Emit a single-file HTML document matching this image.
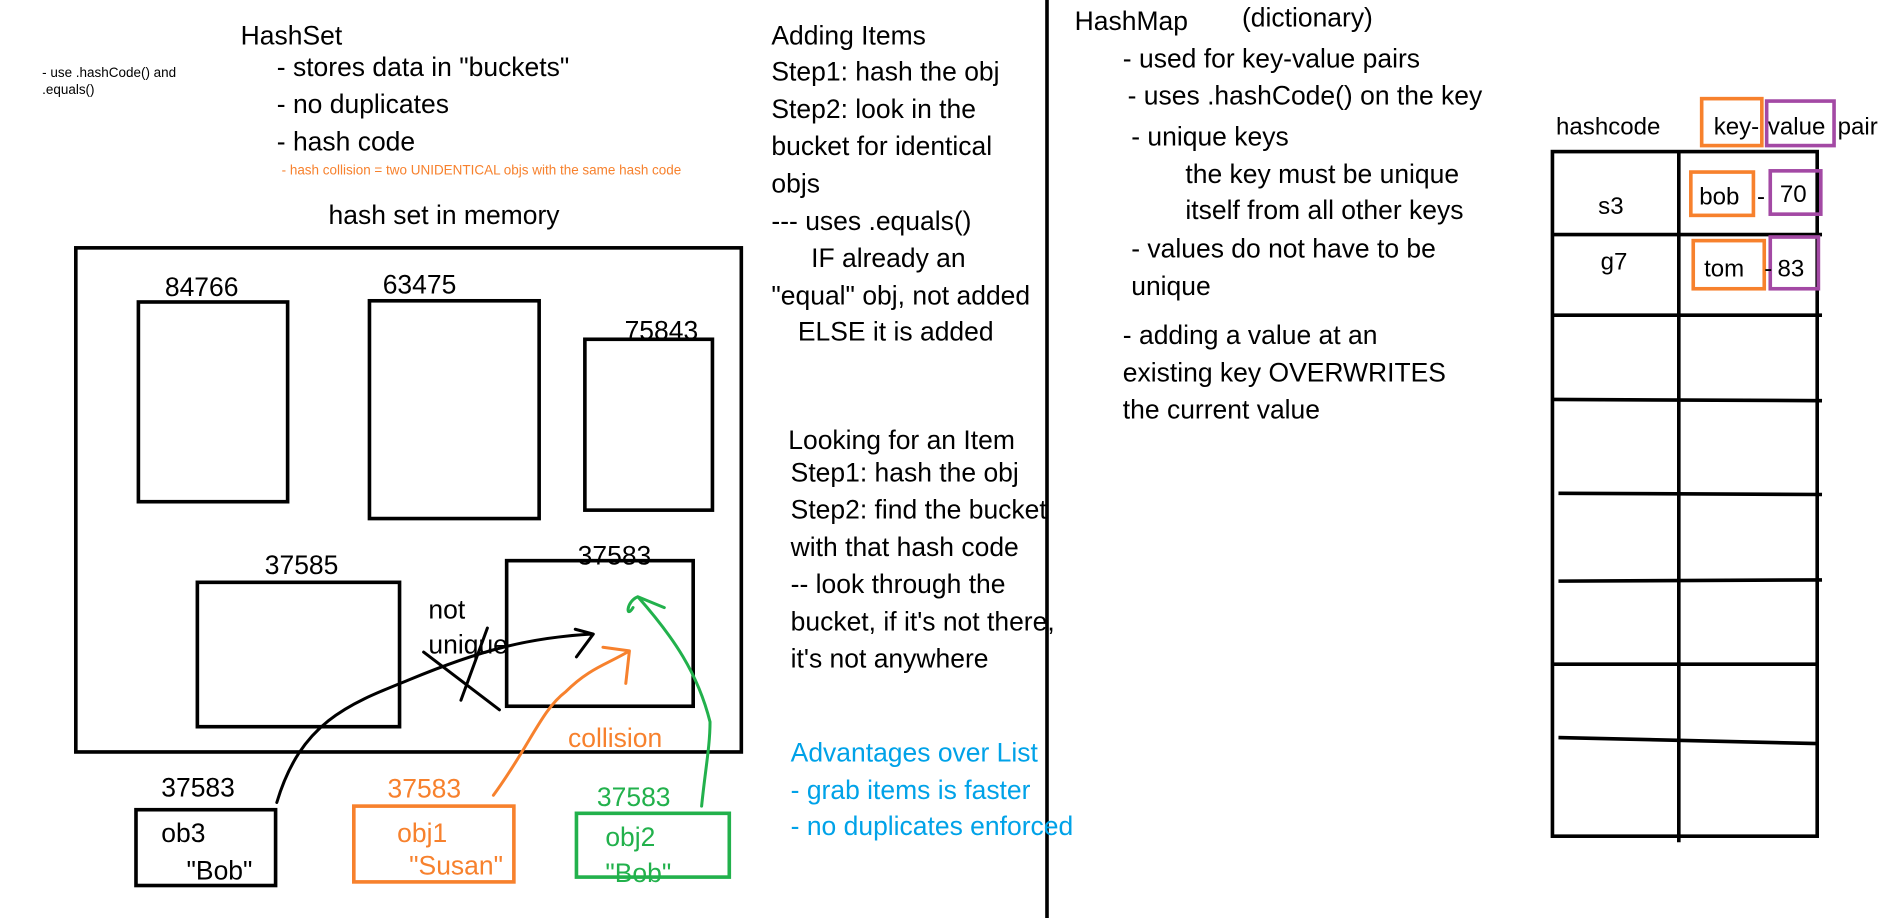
<!DOCTYPE html>
<html><head><meta charset="utf-8"><style>
html,body{margin:0;padding:0;background:#fff;width:1887px;height:918px;overflow:hidden}
svg{display:block}
text{font-family:"Liberation Sans",sans-serif;font-size:22px;fill:#000}
.o{fill:#f7812d}.g{fill:#22b14c}.b{fill:#00a2e8}
.t{font-size:20px}
</style></head><body>
<svg width="1887" height="918" viewBox="0 0 1568 763" preserveAspectRatio="none">
<g fill="none" stroke="#000" stroke-width="3">
<rect x="63" y="206" width="553" height="419"/>
<rect x="115" y="251" width="124" height="166"/>
<rect x="307" y="250" width="141" height="181"/>
<rect x="486" y="282" width="106" height="142"/>
<rect x="164" y="484" width="168" height="120"/>
<rect x="421" y="466" width="155" height="121"/>
<rect x="113" y="673" width="116" height="63"/>
<line x1="870" y1="0" x2="870" y2="763"/>
<rect x="1290" y="126" width="220" height="569"/>
<line x1="1395" y1="126" x2="1395" y2="700"/>
<line x1="1290" y1="195" x2="1514" y2="195"/>
<line x1="1290" y1="262" x2="1514" y2="262"/>
<line x1="1290" y1="332" x2="1514" y2="333"/>
<line x1="1295" y1="410" x2="1514" y2="411"/>
<line x1="1295" y1="483" x2="1514" y2="482"/>
<line x1="1290" y1="552" x2="1510" y2="552"/>
<line x1="1295" y1="613" x2="1510" y2="618"/>
</g>
<g fill="none" stroke-width="2.5" stroke-linecap="round" stroke-linejoin="round">
<path d="M352,542 L415,590 M405,522 L383,582" stroke="#000"/>
<path d="M230,667 C250,600 290,585 340,565 C400,540 440,530 492,527 M478,523 L493,527 L479,546" stroke="#000"/>
<path d="M410,661 C440,620 450,590 470,575 C490,555 505,552 523,541 M501,538 L523,541 L520,568" stroke="#f7812d"/>
<path d="M583,670 C586,640 590,620 590,600 C580,560 560,530 530,496 L552,505 M530,496 C520,500 520,515 526,505" stroke="#22b14c"/>
</g>
<rect x="294" y="670" width="133" height="63" fill="none" stroke="#f7812d" stroke-width="3"/>
<rect x="479" y="676" width="127" height="53" fill="none" stroke="#22b14c" stroke-width="3"/>
<g fill="none" stroke-width="3">
<rect x="1414" y="82" width="50" height="39" stroke="#f7812d"/>
<rect x="1468" y="84" width="56" height="37" stroke="#a349a4"/>
<rect x="1405" y="143" width="52" height="36" stroke="#f7812d"/>
<rect x="1471" y="142" width="42" height="36" stroke="#a349a4"/>
<rect x="1407" y="200" width="59" height="40" stroke="#f7812d"/>
<rect x="1471" y="197" width="40" height="43" stroke="#a349a4"/>
</g>
<text x="35" y="64" style="font-size:11.2px">- use .hashCode() and</text>
<text x="35" y="78" style="font-size:11.2px">.equals()</text>
<text x="200" y="37">HashSet</text>
<text x="230" y="63">- stores data in "buckets"</text>
<text x="230" y="94">- no duplicates</text>
<text x="230" y="125">- hash code</text>
<text x="234" y="145" class="o" style="font-size:11.2px">- hash collision = two UNIDENTICAL objs with the same hash code</text>
<text x="273" y="186">hash set in memory</text>
<text x="137" y="246">84766</text>
<text x="318" y="244">63475</text>
<text x="519" y="282">75843</text>
<text x="220" y="477">37585</text>
<text x="480" y="469">37583</text>
<text x="356" y="514">not</text>
<text x="356" y="543">unique</text>
<text x="472" y="621" class="o">collision</text>
<text x="134" y="662">37583</text>
<text x="134" y="700">ob3</text>
<text x="155" y="731">"Bob"</text>
<text x="322" y="663" class="o">37583</text>
<text x="330" y="700" class="o">obj1</text>
<text x="340" y="727" class="o">"Susan"</text>
<text x="496" y="670" class="g">37583</text>
<text x="503" y="703" class="g">obj2</text>
<text x="503" y="733" class="g">"Bob"</text>
<text x="641" y="37">Adding Items</text>
<text x="641" y="67">Step1: hash the obj</text>
<text x="641" y="98">Step2: look in the</text>
<text x="641" y="129">bucket for identical</text>
<text x="641" y="160">objs</text>
<text x="641" y="191">--- uses .equals()</text>
<text x="674" y="222">IF already an</text>
<text x="641" y="253">"equal" obj, not added</text>
<text x="663" y="283">ELSE it is added</text>
<text x="655" y="373">Looking for an Item</text>
<text x="657" y="400">Step1: hash the obj</text>
<text x="657" y="431">Step2: find the bucket</text>
<text x="657" y="462">with that hash code</text>
<text x="657" y="493">-- look through the</text>
<text x="657" y="524">bucket, if it's not there,</text>
<text x="657" y="555">it's not anywhere</text>
<text x="657" y="633" class="b">Advantages over List</text>
<text x="657" y="664" class="b">- grab items is faster</text>
<text x="657" y="694" class="b">- no duplicates enforced</text>
<text x="893" y="25">HashMap</text>
<text x="1032" y="22">(dictionary)</text>
<text x="933" y="56">- used for key-value pairs</text>
<text x="937" y="87">- uses .hashCode() on the key</text>
<text x="940" y="121">- unique keys</text>
<text x="985" y="152">the key must be unique</text>
<text x="985" y="182">itself from all other keys</text>
<text x="940" y="214">- values do not have to be</text>
<text x="940" y="245">unique</text>
<text x="933" y="286">- adding a value at an</text>
<text x="933" y="317">existing key OVERWRITES</text>
<text x="933" y="348">the current value</text>
<text x="1293" y="112" class="t">hashcode</text>
<text x="1424" y="112" class="t">key-</text>
<text x="1469" y="112" class="t">value</text>
<text x="1527" y="112" class="t">pair</text>
<text x="1328" y="178" class="t">s3</text>
<text x="1330" y="224" class="t">g7</text>
<text x="1412" y="170" class="t">bob</text>
<text x="1460" y="170" class="t">-</text>
<text x="1479" y="168" class="t">70</text>
<text x="1416" y="230" class="t">tom</text>
<text x="1466" y="230" class="t">-</text>
<text x="1477" y="230" class="t">83</text>
</svg>
</body></html>
